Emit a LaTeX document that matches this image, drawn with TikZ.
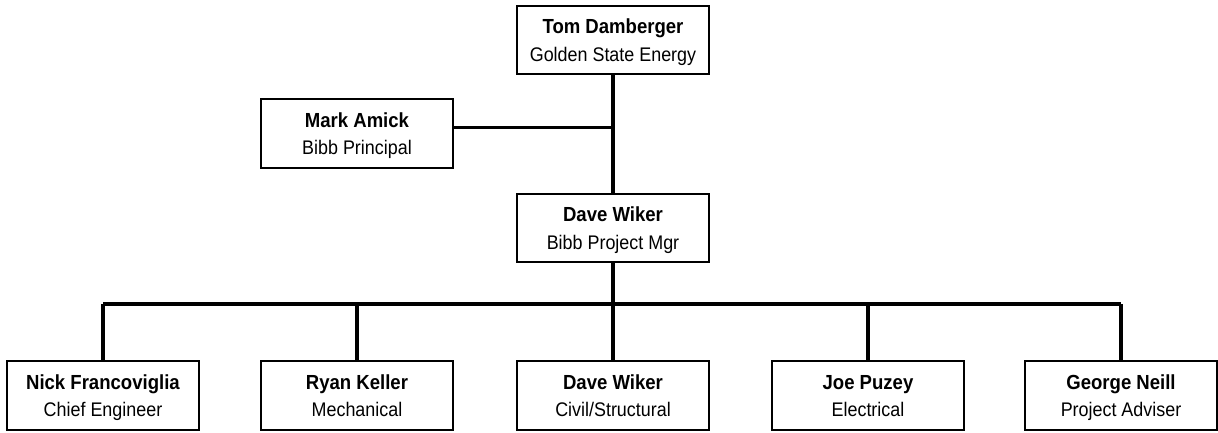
\documentclass[tikz,border=0pt]{standalone}
\usepackage{fontspec}
\setmainfont{Liberation Sans}[FakeStretch=0.91]
\usetikzlibrary{positioning}

\newcommand{\who}[1]{\rule{0pt}{20pt}\textbf{\fontsize{14.5}{19.5}\selectfont #1}}

\tikzset{
    person/.style={draw, line width=1.5pt, minimum width=4.8cm, minimum height=1.72cm,
        align=center, font=\fontsize{14}{19.5}\selectfont, inner sep=0pt,
        execute at end node={\rule[-9.3pt]{0pt}{9.3pt}}},
    link/.style={line width=2.4pt}
}

\begin{document}
\begin{tikzpicture}[x=0.025cm, y=-0.025cm]
        \useasboundingbox (0,0) rectangle (1218,433);
        % top of the chart
        \node[person] (tom) at (613,40) {\who{Tom Damberger}\\ Golden State Energy};
        \node[person] (mark) at (357,133.5) {\who{Mark Amick}\\ Bibb Principal};
        \node[person] (dave) at (613,228) {\who{Dave Wiker}\\ Bibb Project Mgr};
        % team row
        \node[person] (nick) at (103,395.5) {\who{Nick Francoviglia}\\ Chief Engineer};
        \node[person] (ryan) at (357,395.5) {\who{Ryan Keller}\\ Mechanical};
        \node[person] (civil) at (613,395.5) {\who{Dave Wiker}\\ Civil/Structural};
        \node[person] (joe) at (868,395.5) {\who{Joe Puzey}\\ Electrical};
        \node[person] (george) at (1121,395.5) {\who{George Neill}\\ Project Adviser};

        \coordinate (bus) at (613,304);
        \draw[link] (tom.south) -- (dave.north);
        \draw[link] ([yshift=1.5mm]mark.east) -- ([yshift=1.5mm]mark.east -| tom.south);
        \draw[link] (dave.south) -- (bus);
        \draw[link] (bus -| nick.north) -- (bus -| george.north);
        \draw[link] (bus -| nick.north) -- (nick.north);
        \draw[link] (bus -| ryan.north) -- (ryan.north);
        \draw[link] (bus) -- (civil.north);
        \draw[link] (bus -| joe.north) -- (joe.north);
        \draw[link] (bus -| george.north) -- (george.north);
    \end{tikzpicture}
\end{document}
